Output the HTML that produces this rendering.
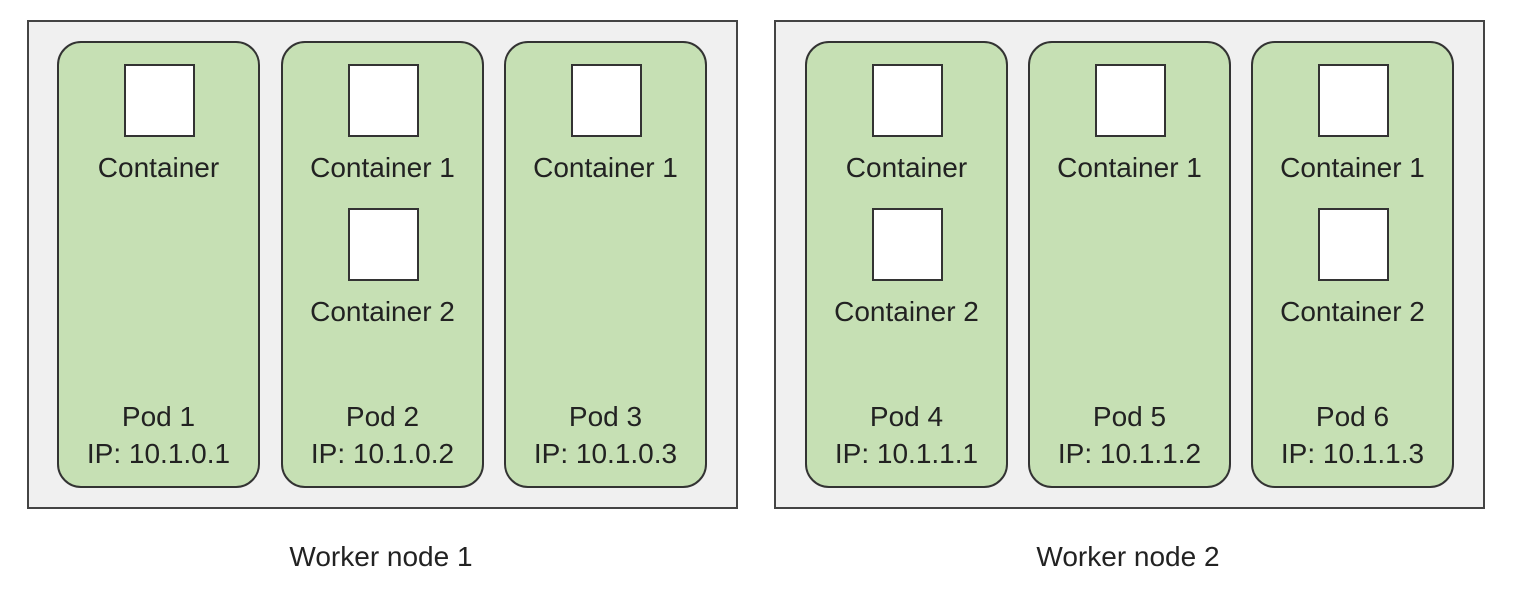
<!DOCTYPE html>
<html><head><style>
body{margin:0;width:1518px;height:590px;background:#fff;position:relative;font-family:"Liberation Sans",Arial,sans-serif;color:#222;overflow:hidden}
.node{position:absolute;top:20px;height:489px;background:#f0f0f0;border:2px solid #444;box-sizing:border-box}
.pod{position:absolute;top:41px;width:203px;height:447px;background:#c6e0b4;border:2px solid #333;border-radius:24px;box-sizing:border-box}
.sq{position:absolute;width:71px;height:73px;background:#fff;border:2px solid #333;box-sizing:border-box}
.t{position:absolute;width:300px;text-align:center;font-size:28px;line-height:32px}
</style></head><body>
<div class="node" style="left:27px;width:711px"></div>
<div class="node" style="left:774px;width:711px"></div>
<div id="c"></div>
<script>
var pods=[[57,2,"Container","Pod 1","IP: 10.1.0.1",1],[281,2,"Container 1","Pod 2","IP: 10.1.0.2",2],[504,1,"Container 1","Pod 3","IP: 10.1.0.3",1],
[805,2,"Container","Pod 4","IP: 10.1.1.1",2],[1028,1,"Container 1","Pod 5","IP: 10.1.1.2",1],[1251,2,"Container 1","Pod 6","IP: 10.1.1.3",2]];
var h="";
pods.forEach(function(p){var x=p[0],cx=x+101.5;
h+='<div class="pod" style="left:'+x+'px"></div>';
h+='<div class="sq" style="left:'+(cx-35)+'px;top:64px"></div>';
h+='<div class="t" style="left:'+(cx-150)+'px;top:152px">'+p[2]+'</div>';
if(p[5]==2){h+='<div class="sq" style="left:'+(cx-35)+'px;top:208px"></div>';
h+='<div class="t" style="left:'+(cx-150)+'px;top:296px">Container 2</div>';}
h+='<div class="t" style="left:'+(cx-150)+'px;top:401px">'+p[3]+'</div>';
h+='<div class="t" style="left:'+(cx-150)+'px;top:438px">'+p[4]+'</div>';
});
h+='<div class="t" style="left:231px;top:541px">Worker node 1</div>';
h+='<div class="t" style="left:978px;top:541px">Worker node 2</div>';
document.getElementById("c").innerHTML=h;
</script>
</body></html>
